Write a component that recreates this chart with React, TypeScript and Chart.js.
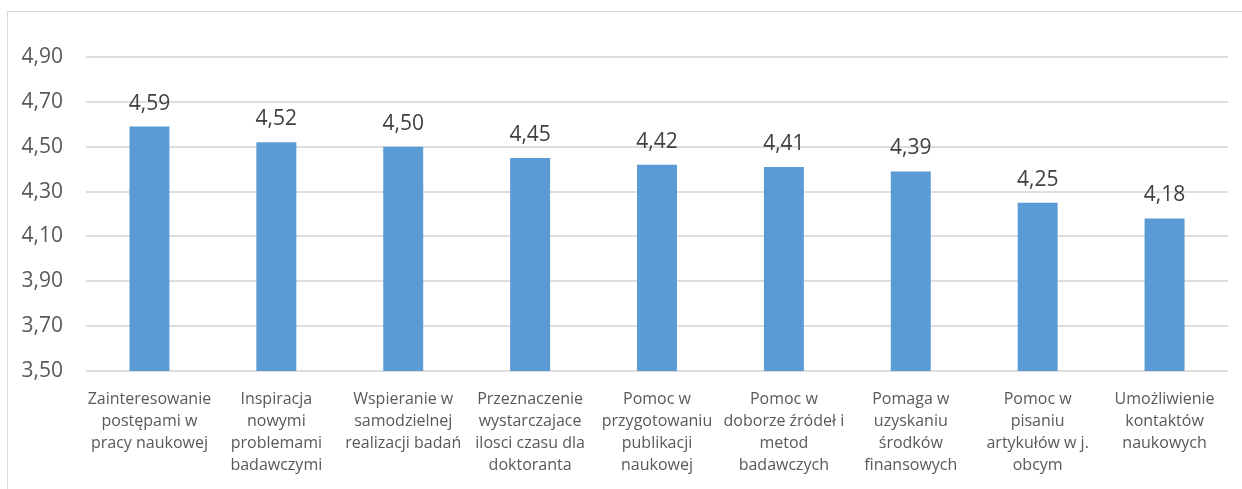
import React, { useEffect, useRef } from "react";
import { Chart, registerables } from "chart.js";

Chart.register(...registerables);

const categories: string[][] = [
  ["Zainteresowanie", "postępami w", "pracy naukowej"],
  ["Inspiracja", "nowymi", "problemami", "badawczymi"],
  ["Wspieranie w", "samodzielnej", "realizacji badań"],
  ["Przeznaczenie", "wystarczajace", "ilosci czasu dla", "doktoranta"],
  ["Pomoc w", "przygotowaniu", "publikacji", "naukowej"],
  ["Pomoc w", "doborze źródeł i", "metod", "badawczych"],
  ["Pomaga w", "uzyskaniu", "środków", "finansowych"],
  ["Pomoc w", "pisaniu", "artykułów w j.", "obcym"],
  ["Umożliwienie", "kontaktów", "naukowych"],
];

const values: number[] = [4.59, 4.52, 4.5, 4.45, 4.42, 4.41, 4.39, 4.25, 4.18];

const yMin = 3.5;
const yMax = 4.9;
const yStep = 0.2;

const fmt = (v: number) => v.toFixed(2).replace(".", ",");

export default function App() {
  const ref = useRef<HTMLCanvasElement | null>(null);

  useEffect(() => {
    if (!ref.current) return;
    const borderPlugin = {
      id: "outerBorder",
      beforeDraw(chart: any) {
        const ctx = chart.ctx;
        ctx.save();
        ctx.fillStyle = "#ffffff";
        ctx.fillRect(0, 0, chart.width, chart.height);
        ctx.strokeStyle = "#d9d9d9";
        ctx.lineWidth = 1;
        ctx.strokeRect(7.5, 11.5, 1400, 600);
        ctx.restore();
      },
    };
    const labelPlugin = {
      id: "valueLabels",
      afterDatasetsDraw(chart: any) {
        const ctx = chart.ctx;
        const meta = chart.getDatasetMeta(0);
        ctx.save();
        ctx.font = '21px "Open Sans"';
        ctx.fillStyle = "#404040";
        ctx.textAlign = "center";
        ctx.textBaseline = "alphabetic";
        meta.data.forEach((bar: any, i: number) => {
          ctx.fillText(fmt(values[i]), bar.x, bar.y - 17);
        });
        ctx.restore();
      },
    };
    const chart = new Chart(ref.current, {
      type: "bar",
      data: {
        labels: categories,
        datasets: [
          {
            data: values,
            backgroundColor: "#5B9BD5",
            borderWidth: 0,
            categoryPercentage: 1,
            barPercentage: 0.315,
          },
        ],
      },
      options: {
        animation: false,
        responsive: false,
        layout: { padding: { top: 57, right: 14, left: 0, bottom: 0 } },
        plugins: { legend: { display: false }, tooltip: { enabled: false } },
        scales: {
          x: {
            grid: { display: false, drawTicks: false },
            border: { display: false },
            ticks: {
              color: "#595959",
              font: { family: "Open Sans", size: 16, lineHeight: 1.39 },
              padding: 17,
              maxRotation: 0,
              autoSkip: false,
            },
            afterFit(scale: any) {
              scale.height = 118;
            },
          },
          y: {
            min: yMin,
            max: yMax,
            grid: { color: "#dedede", lineWidth: 2, drawTicks: false },
            border: { display: false },
            ticks: {
              stepSize: yStep,
              color: "#595959",
              font: { family: "Open Sans", size: 21 },
              padding: 23,
              callback: (v: any) => fmt(Number(v)),
            },
            afterFit(scale: any) {
              scale.width = 86;
            },
          },
        },
      },
      plugins: [borderPlugin, labelPlugin],
    });
    return () => chart.destroy();
  }, []);

  return (
    <div style={{ position: "fixed", left: 0, top: 0, width: 1242, height: 489, background: "#fff" }}>
      <canvas ref={ref} width={1242} height={489} style={{ display: "block", width: 1242, height: 489 }} />
    </div>
  );
}
